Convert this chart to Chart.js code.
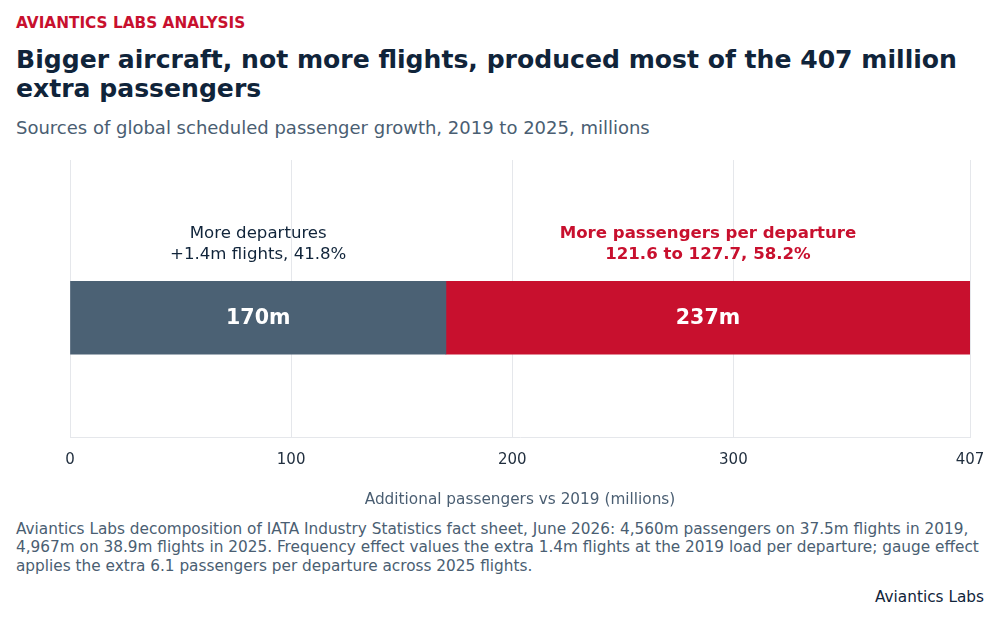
<!DOCTYPE html>
<html>
<head>
<meta charset="utf-8">
<script src="https://cdn.jsdelivr.net/npm/chart.js@4"></script>
<style>
  html, body { margin: 0; padding: 0; background: #fff; }
  body { width: 1000px; height: 620px; position: relative; overflow: hidden;
         font-family: "DejaVu Sans", sans-serif; }
  .kicker { position: absolute; left: 16px; top: 14px; font-size: 15.3px; line-height: 18px;
            font-weight: bold; color: #c8102e; }
  .title { position: absolute; left: 16px; top: 45px; width: 968px; font-size: 25.1px;
           line-height: 29px; font-weight: bold; color: #10243a; margin: 0; }
  .subtitle { position: absolute; left: 16px; top: 117px; font-size: 18px; line-height: 21px;
              color: #4a5e72; }
  #wrap { position: absolute; left: 0; top: 150px; width: 1000px; height: 365px; }
  .note { position: absolute; left: 16px; top: 519.5px; width: 968px; font-size: 15.3px;
          line-height: 18.5px; color: #4a5e72; }
  .source { position: absolute; right: 16px; top: 588px; font-size: 15.3px; line-height: 18px;
            color: #10243a; }
</style>
</head>
<body>
<div class="kicker">AVIANTICS LABS ANALYSIS</div>
<h1 class="title">Bigger aircraft, not more flights, produced most of the 407 million extra passengers</h1>
<div class="subtitle">Sources of global scheduled passenger growth, 2019 to 2025, millions</div>
<div id="wrap"><canvas id="chart"></canvas></div>
<div class="note">Aviantics Labs decomposition of IATA Industry Statistics fact sheet, June 2026: 4,560m passengers on 37.5m flights in 2019, 4,967m on 38.9m flights in 2025. Frequency effect values the extra 1.4m flights at the 2019 load per departure; gauge effect applies the extra 6.1 passengers per departure across 2025 flights.</div>
<div class="source">Aviantics Labs</div>

<script>
// data
const categories = ["2019 to 2025"];
const seriesNames = ["More departures", "More passengers per departure"];
const departures = [170];
const perDeparture = [237];
const barLabels = ["170m", "237m"];
const noteLines = [
  ["More departures", "+1.4m flights, 41.8%"],
  ["More passengers per departure", "121.6 to 127.7, 58.2%"]
];
const tickValues = [0, 100, 200, 300, 407];
const X_MAX = 407;

const BLUE = "#4b6174";
const RED = "#c8102e";
const BAR_POS = 0.425;   // where the bar sits on the hidden y scale (0 = bottom)

// text above and inside each bar segment
const segmentText = {
  id: "segmentText",
  afterDatasetsDraw(chart) {
    const c = chart.ctx;
    c.save();
    c.textAlign = "center";
    c.textBaseline = "middle";
    chart.data.datasets.forEach((ds, i) => {
      const bar = chart.getDatasetMeta(i).data[0];
      if (!bar) return;
      const left = Math.min(bar.x, bar.base), right = Math.max(bar.x, bar.base);
      const cx = (left + right) / 2;
      const top = bar.y - bar.height / 2;
      c.fillStyle = "#ffffff";
      c.font = "bold 20.6px 'DejaVu Sans'";
      c.fillText(barLabels[i], cx, bar.y + 1);
      c.fillStyle = i === 0 ? "#10243a" : RED;
      c.font = (i === 0 ? "" : "bold ") + "16.6px 'DejaVu Sans'";
      c.fillText(noteLines[i][0], cx, top - 48);
      c.fillText(noteLines[i][1], cx, top - 27);
    });
    c.restore();
  }
};

new Chart(document.getElementById("chart"), {
  type: "bar",
  data: {
    datasets: [
      { label: seriesNames[0], data: departures.map(v => ({ x: v, y: BAR_POS })),
        backgroundColor: BLUE, borderWidth: 0, barThickness: 73 },
      { label: seriesNames[1], data: perDeparture.map(v => ({ x: v, y: BAR_POS })),
        backgroundColor: RED, borderWidth: 0, barThickness: 73 }
    ]
  },
  options: {
    indexAxis: "y",
    responsive: true,
    maintainAspectRatio: false,
    animation: false,
    layout: { padding: { left: 70, right: 30, top: 10, bottom: 6 } },
    plugins: { legend: { display: false }, tooltip: { enabled: false } },
    scales: {
      x: {
        type: "linear", stacked: true, min: 0, max: X_MAX,
        afterBuildTicks: s => { s.ticks = tickValues.map(v => ({ value: v })); },
        grid: { color: "#e5e7eb", drawTicks: false },
        border: { color: "#e5e7eb" },
        ticks: { padding: 13, color: "#1f2d3d", font: { family: "DejaVu Sans", size: 15 },
                 maxRotation: 0, autoSkip: false },
        title: { display: true, text: "Additional passengers vs 2019 (millions)",
                 color: "#4a5e72", font: { family: "DejaVu Sans", size: 15.3 },
                 padding: { top: 9, bottom: 0 } }
      },
      y: { type: "linear", stacked: true, min: 0, max: 1, display: false }
    }
  },
  plugins: [segmentText]
});
</script>
</body>
</html>
